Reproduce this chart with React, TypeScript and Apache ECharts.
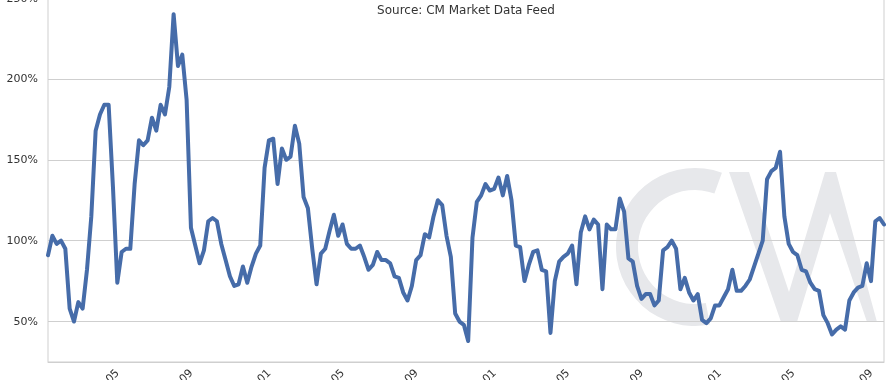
import React, { useEffect, useRef } from 'react';
import * as echarts from 'echarts';

const startDate = '2012-01-13';

const values = [
  91, 103, 98, 100, 95, 58, 50, 62, 58, 82,
  115, 168, 178, 184, 184, 133, 74, 93, 95, 95,
  135, 162, 159, 162, 176, 168, 184, 178, 195, 240,
  208, 215, 187, 108, 97, 86, 94, 112, 114, 112,
  98, 88, 78, 72, 73, 84, 74, 84, 92, 97,
  145, 162, 163, 135, 157, 150, 152, 171, 160, 127,
  120, 95, 73, 92, 95, 106, 116, 103, 110, 98,
  95, 95, 97, 90, 82, 85, 93, 88, 88, 86,
  78, 77, 68, 63, 72, 88, 91, 104, 102, 115,
  125, 122, 103, 90, 55, 50, 48, 38, 102, 124,
  128, 135, 131, 132, 139, 128, 140, 125, 97, 96,
  75, 85, 93, 94, 82, 81, 43, 75, 87, 90,
  92, 97, 73, 105, 115, 107, 113, 110, 70, 110,
  107, 107, 126, 118, 89, 87, 72, 64, 67, 67,
  60, 63, 94, 96, 100, 95, 70, 77, 68, 63,
  67, 51, 49, 52, 60, 60, 65, 70, 82, 69,
  69, 72, 76, 84, 92, 100, 138, 143, 145, 155,
  115, 98, 93, 91, 82, 81, 74, 70, 69, 54,
  49, 42, 45, 47, 45, 63, 68, 71, 72, 86,
  75, 112, 114, 110,
];

const tickMonths = [
  '2012-05', '2012-09', '2013-01', '2013-05', '2013-09', '2014-01',
  '2014-05', '2014-09', '2015-01', '2015-05', '2015-09',
];

const sourceText = 'Source: CM Market Data Feed';

const DAY = 86400000;

export default function App() {
  const ref = useRef<HTMLDivElement>(null);
  useEffect(() => {
    const chart = echarts.init(ref.current!, null, { renderer: 'svg' });
    const start = Date.parse(startDate + 'T00:00:00Z');
    const dates = values.map((_, i) => new Date(start + i * 7 * DAY).toISOString().slice(0, 10));
    const labelAt = new Map<number, string>();
    tickMonths.forEach((m) => {
      const t = Date.parse(m + '-01T00:00:00Z');
      labelAt.set(Math.round((t - start) / (7 * DAY)), m);
    });
    const wm = '#e7e8eb';
    chart.setOption({
      animation: false,
      textStyle: { fontFamily: 'DejaVu Sans' },
      grid: {
        left: 48, right: 8, top: -2, bottom: 18,
        outerBoundsMode: 'none',
        containLabel: false,
        show: true, borderColor: '#cfcfcf', borderWidth: 1,
      },
      xAxis: {
        type: 'category',
        data: dates,
        boundaryGap: false,
        axisLine: { lineStyle: { color: '#cfcfcf' } },
        axisTick: { show: false },
        splitLine: { show: false },
        axisLabel: {
          interval: 0,
          rotate: 45,
          fontSize: 11,
          color: '#333',
          margin: 9,
          formatter: (_v: string, idx: number) => labelAt.get(idx) ?? '',
        },
      },
      yAxis: {
        type: 'value',
        min: 25,
        max: 250,
        axisLine: { show: false },
        axisTick: { show: false },
        axisLabel: {
          showMinLabel: false,
          fontSize: 11,
          color: '#333',
          margin: 10,
          formatter: (v: number) => (v % 50 === 0 ? v + '%' : ''),
        },
        splitLine: { lineStyle: { color: '#cfcfcf' } },
      },
      graphic: [
        {
          type: 'sector', z: -1, silent: true,
          shape: { cx: 695, cy: 247, r: 79, r0: 57, startAngle: 1.38, endAngle: 5.06, clockwise: true },
          style: { fill: wm },
        },
        {
          type: 'polygon', z: -1, silent: true,
          shape: {
            points: [[729, 172], [749, 172], [789, 292], [825, 172], [836, 172], [877, 322], [867, 322], [830, 213], [797, 322], [781, 322]],
          },
          style: { fill: wm },
        },
        {
          type: 'text', silent: true, x: 466, y: 10,
          style: {
            text: sourceText, align: 'center', verticalAlign: 'middle',
            textAlign: 'center', textVerticalAlign: 'middle',
            fontSize: 12, fill: '#333', fontFamily: 'DejaVu Sans',
          },
        },
      ],
      series: [
        {
          type: 'line',
          data: values,
          symbol: 'none',
          showSymbol: false,
          z: 3,
          lineStyle: { width: 4, color: '#466ca9', join: 'round', cap: 'round' },
          itemStyle: { color: '#466ca9' },
        },
      ],
    });
    return () => chart.dispose();
  }, []);
  return <div ref={ref} style={{ position: 'fixed', left: 0, top: 0, width: 892, height: 380 }} />;
}
